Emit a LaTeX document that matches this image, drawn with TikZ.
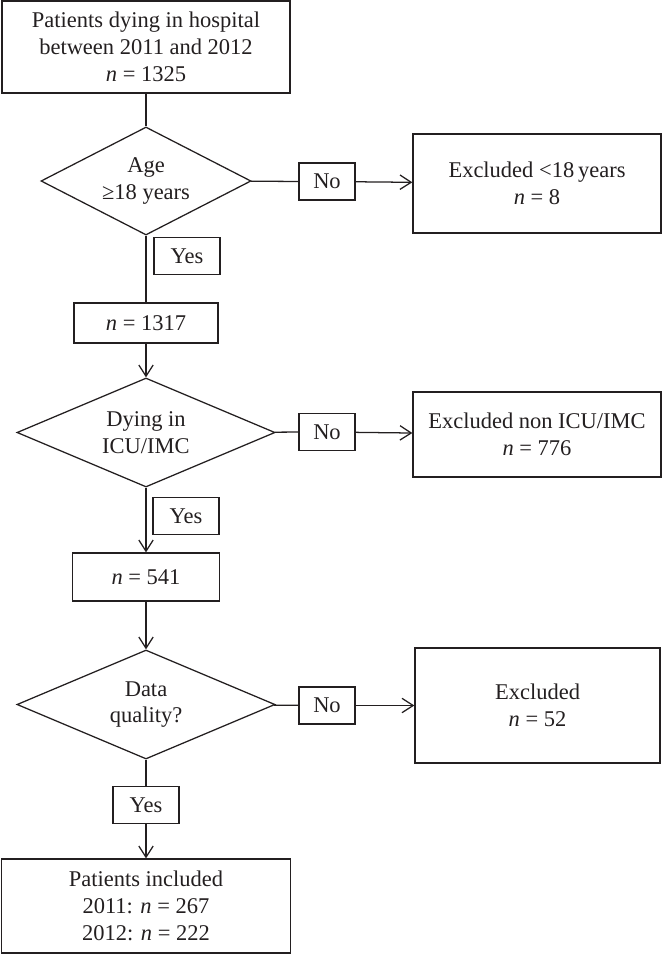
\documentclass[tikz,border=0pt]{standalone}
\usepackage{fontspec}
\setmainfont{Liberation Serif}
\usetikzlibrary{shapes.geometric, arrows.meta, positioning}
\definecolor{ink}{RGB}{35,31,32}

\tikzset{
    flowbox/.style={rectangle, draw=ink, line width=0.9pt, align=center, inner sep=0pt, text=ink},
    decision/.style={diamond, draw=ink, line width=0.9pt, align=center, inner sep=0pt, aspect=2, text=ink},
    answer/.style={rectangle, draw=ink, line width=0.9pt, inner sep=0pt, minimum width=1.65cm, minimum height=0.93cm, text=ink},
    link/.style={draw=ink, line width=0.9pt},
    flow/.style={link, -{Straight Barb[length=2.8mm, width=3.6mm, line width=0.9pt]}}
}

\begin{document}
\begin{tikzpicture}[x=0.025cm, y=-0.025cm, font=\fontsize{16}{19}\selectfont]
        \useasboundingbox (0,0) rectangle (662,974);

        % Start box
        \node[flowbox, minimum width=7.2cm, minimum height=2.3cm] (start) at (146,47) {Patients dying in hospital\\between 2011 and 2012\\\textit{n} = 1325};

        % Age check
        \node[decision, minimum width=5.25cm, minimum height=2.7cm] (age) at (146,181) {Age\\≥18 years};
        \node[answer, minimum width=1.4cm] (ageno) at (327,181.5) {No};
        \node[flowbox, minimum width=6.2cm, minimum height=2.475cm] (exage) at (537,183.5) {Excluded <18\,years\\\textit{n} = 8};
        \node[answer] (ageyes) at (187,256) {Yes};
        \node[flowbox, minimum width=3.6cm, minimum height=1cm] (adults) at (146,323) {\textit{n} = 1317};

        % ICU/IMC check
        \node[decision, minimum width=6.45cm, minimum height=2.725cm] (icu) at (146,432.5) {Dying in\\ICU/IMC};
        \node[answer, minimum width=1.4cm] (icuno) at (327,432) {No};
        \node[flowbox, minimum width=6.2cm, minimum height=2.125cm] (exicu) at (537,434.5) {Excluded non ICU/IMC\\\textit{n} = 776};
        \node[answer] (icuyes) at (186,516) {Yes};
        \node[flowbox, minimum width=3.675cm, minimum height=1.2cm] (icupat) at (146,577) {\textit{n} = 541};

        % Data quality check
        \node[decision, minimum width=6.45cm, minimum height=2.725cm] (quality) at (146,704.5) {Data\\quality?};
        \node[answer, minimum width=1.4cm] (qualno) at (327,705.5) {No};
        \node[flowbox, minimum width=6.125cm, minimum height=2.875cm] (exqual) at (537.5,705.5) {Excluded\\\textit{n} = 52};
        \node[answer] (qualyes) at (146,805) {Yes};
        \node[flowbox, minimum width=7.225cm, minimum height=2.35cm] (included) at (146,906) {Patients included\\2011: \textit{n} = 267\\2012: \textit{n} = 222};

        % Connectors
        \draw[link] (start) -- (age);
        \draw[link] (age) -- (ageno);
        \draw[flow] (ageno) -- (exage);
        \draw[link] (age) -- (adults);
        \draw[flow] (adults) -- (icu);
        \draw[link] (icu) -- (icuno);
        \draw[flow] (icuno) -- (exicu);
        \draw[flow] (icu) -- (icupat);
        \draw[flow] (icupat) -- (quality);
        \draw[link] (quality) -- (qualno);
        \draw[flow] (qualno) -- (exqual);
        \draw[link] (quality) -- (qualyes);
        \draw[flow] (qualyes) -- (included);
    \end{tikzpicture}
\end{document}
